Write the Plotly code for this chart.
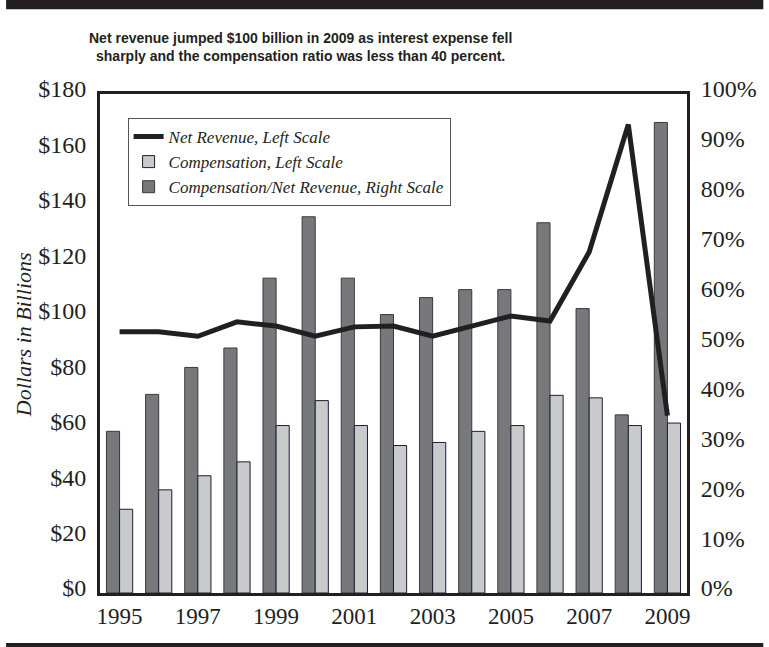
import plotly.graph_objects as go

# Annual figures, 1995-2009
years = list(range(1995, 2010))
net_revenue = [94.2, 94.2, 92.6, 97.8, 96.3, 92.6, 96.0, 96.3, 92.6, 96.3, 99.9, 98.1, 123.0, 169.0, 64.0]
compensation = [30.2, 37.2, 42.3, 47.3, 60.4, 69.4, 60.4, 53.2, 54.3, 58.3, 60.4, 71.3, 70.4, 60.4, 61.3]
comp_ratio_pct = [32.4, 39.8, 45.2, 49.1, 63.1, 75.4, 63.1, 55.8, 59.2, 60.8, 60.8, 74.2, 57.0, 35.7, 94.3]

year_ticks = list(range(1995, 2010, 2))
dollar_ticks = list(range(0, 181, 20))
pct_ticks = list(range(0, 101, 10))

INK = "#231f20"
SERIF = "Liberation Serif, Times New Roman, serif"
BAR_W = 0.335

fig = go.Figure()

# Ratio bars on the primary (right-hand, percent) axis
fig.add_trace(go.Bar(
    x=years, y=comp_ratio_pct, name="Compensation/Net Revenue, Right Scale",
    width=BAR_W, offset=-BAR_W,
    marker=dict(color="#77787c", line=dict(color="#3a3a3c", width=1)),
    yaxis="y", legendrank=3,
))

# Compensation bars and net revenue line on the dollar axis (overlay, drawn above)
fig.add_trace(go.Bar(
    x=years, y=compensation, name="Compensation, Left Scale",
    width=BAR_W, offset=0,
    marker=dict(color="#c9cacc", line=dict(color="#1c1c38", width=1)),
    yaxis="y2", legendrank=2,
))
fig.add_trace(go.Scatter(
    x=years, y=net_revenue, name="Net Revenue, Left Scale",
    mode="lines", line=dict(color=INK, width=5),
    yaxis="y2", legendrank=1,
))

fig.update_layout(
    width=769, height=647,
    margin=dict(l=100, r=76, t=94, b=54),
    paper_bgcolor="white", plot_bgcolor="white",
    barmode="overlay",
    showlegend=True,
    legend=dict(
        x=0.047, y=0.952, xanchor="left", yanchor="top",
        bgcolor="white", bordercolor="#555555", borderwidth=1,
        font=dict(family=SERIF, size=17, color=INK, style="italic"),
        itemwidth=30,
    ),
    xaxis=dict(
        range=[1994.5, 2009.5], tickvals=year_ticks, ticktext=[str(y) for y in year_ticks],
        showline=True, linewidth=3, linecolor=INK, mirror=True,
        showgrid=False, zeroline=False, ticks="",
        tickfont=dict(family=SERIF, size=23, color=INK),
    ),
    yaxis=dict(
        range=[0, 100], side="right", tickvals=pct_ticks,
        ticktext=[f"{v}%" for v in pct_ticks],
        showline=True, linewidth=3, linecolor=INK,
        showgrid=False, zeroline=False, ticks="",
        ticklabelstandoff=6, ticklabelshift=-5,
        tickfont=dict(family=SERIF, size=24, color=INK),
    ),
    yaxis2=dict(
        range=[0, 180], side="left", overlaying="y", tickvals=dollar_ticks,
        ticktext=[f"${v}" for v in dollar_ticks],
        showline=True, linewidth=3, linecolor=INK,
        showgrid=False, zeroline=False, ticks="",
        ticklabelstandoff=6, ticklabelshift=-5,
        tickfont=dict(family=SERIF, size=24, color=INK),
    ),
)

# Heavy rules framing the figure top and bottom
fig.add_shape(type="rect", xref="paper", yref="paper",
              x0=-0.16, x1=1.13, y0=1.170, y1=1.19,
              fillcolor=INK, line=dict(width=0), layer="above")
fig.add_shape(type="rect", xref="paper", yref="paper",
              x0=-0.16, x1=1.13, y0=-0.109, y1=-0.100,
              fillcolor=INK, line=dict(width=0), layer="above")

fig.add_annotation(
    text="Net revenue jumped $100 billion in 2009 as interest expense fell<br>"
         "sharply and the compensation ratio was less than 40 percent.",
    xref="paper", yref="paper", x=0.342, y=1.094,
    xanchor="center", yanchor="middle", showarrow=False, align="center",
    font=dict(family="Liberation Sans, Arial, sans-serif",
              size=14, color=INK, weight="bold"),
)
fig.add_annotation(
    text="Dollars in Billions", textangle=-90,
    xref="paper", yref="paper", x=-0.130, y=0.518,
    xanchor="center", yanchor="middle", showarrow=False,
    font=dict(family=SERIF, size=22, color=INK, style="italic"),
)

fig.write_html("out.html")
